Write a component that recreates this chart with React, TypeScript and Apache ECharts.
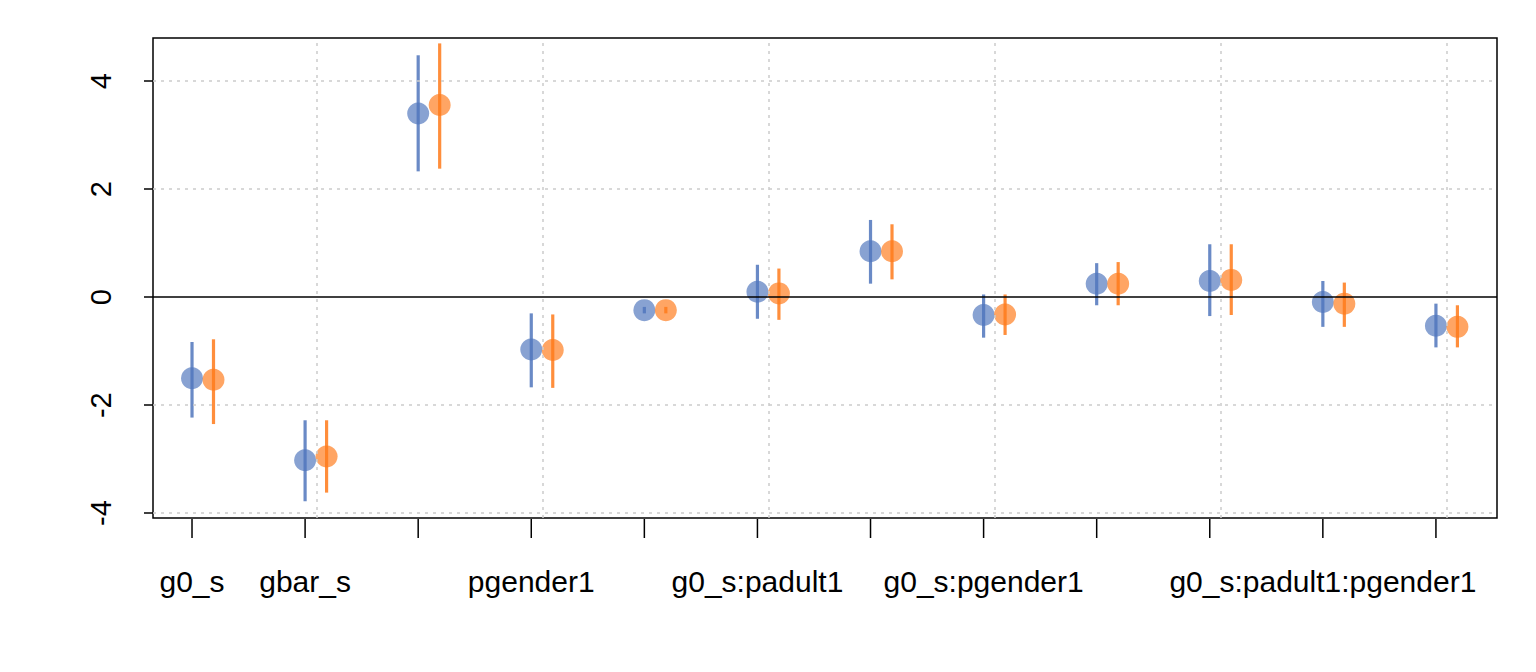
import React, { useEffect, useRef } from "react";
import * as echarts from "echarts";

const categories = ["g0_s", "gbar_s", "padult1", "pgender1", "g0_s:gbar_s", "g0_s:padult1", "gbar_s:padult1", "g0_s:pgender1", "gbar_s:pgender1", "padult1:pgender1", "g0_s:padult1:pgender1", "gbar_s:padult1:pgender1"];
const shownLabels = [true, true, false, true, false, true, false, true, false, false, true, false];
const blueEst = [-1.5, -3.02, 3.4, -0.97, -0.24, 0.1, 0.85, -0.33, 0.25, 0.3, -0.09, -0.53];
const blueLo = [-2.23, -3.78, 2.33, -1.67, -0.3, -0.4, 0.25, -0.75, -0.15, -0.35, -0.55, -0.93];
const blueHi = [-0.83, -2.28, 4.48, -0.3, -0.18, 0.6, 1.43, 0.05, 0.63, 0.98, 0.3, -0.12];
const orangeEst = [-1.53, -2.95, 3.56, -0.98, -0.24, 0.07, 0.85, -0.32, 0.25, 0.32, -0.12, -0.55];
const orangeLo = [-2.35, -3.62, 2.38, -1.68, -0.3, -0.42, 0.33, -0.7, -0.15, -0.33, -0.55, -0.93];
const orangeHi = [-0.78, -2.28, 4.7, -0.32, -0.18, 0.53, 1.35, 0.05, 0.65, 0.98, 0.27, -0.15];
const yTicks = [-4, -2, 0, 2, 4];
const yGrid = [-4, -2, 2, 4];
const xGrid = [2.1, 4.1, 6.1, 8.1, 10.1, 12.1];

const BLUE = "rgba(80,118,188,0.85)";
const ORANGE = "rgba(255,122,26,0.85)";
const FONT = "Arial";

export default function App() {
  const ref = useRef<HTMLDivElement>(null);
  useEffect(() => {
    const chart = echarts.init(ref.current!, null, { renderer: "svg" });
    const offset = 0.19;
    const errSeries = (est: number[], lo: number[], hi: number[], off: number, color: string) => [
      {
        type: "custom",
        data: est.map((_, i) => [i + 1 + off, lo[i], hi[i]]),
        renderItem: (params: any, api: any) => {
          const a = api.coord([api.value(0), api.value(1)]);
          const b = api.coord([api.value(0), api.value(2)]);
          return { type: "line", shape: { x1: a[0], y1: a[1], x2: b[0], y2: b[1] }, style: { stroke: color, lineWidth: 3.2 } };
        },
        z: 3,
      },
      {
        type: "scatter",
        data: est.map((v, i) => [i + 1 + off, v]),
        symbolSize: 22,
        itemStyle: { color },
        z: 4,
      },
    ];
    chart.setOption({
      animation: false,
      grid: { left: 153, right: 39, top: 38, bottom: 154, show: true, borderColor: "#000", borderWidth: 1.5, backgroundColor: "transparent" },
      xAxis: { type: "value", min: 0.655, max: 12.54, axisLabel: { show: false }, axisTick: { show: false }, axisLine: { show: false }, splitLine: { show: false } },
      yAxis: {
        type: "value", min: -4.09, max: 4.8,
        axisLine: { show: false },
        splitLine: { show: false },
        axisTick: { show: true, customValues: yTicks, length: 9, lineStyle: { color: "#000", width: 1.5 } },
        axisLabel: { customValues: yTicks, rotate: 90, margin: 38, fontSize: 29, color: "#000", fontFamily: FONT, formatter: (v: number) => String(v) },
      },
      series: [
        {
          type: "line", data: [], silent: true,
          markLine: {
            symbol: "none", silent: true, label: { show: false },
            lineStyle: { color: "#cccccc", type: [3, 5], width: 1.5 },
            data: [...yGrid.map((y) => ({ yAxis: y })), ...xGrid.map((x) => ({ xAxis: x }))],
          },
        },
        {
          type: "line", data: [], silent: true,
          markLine: { symbol: "none", silent: true, label: { show: false }, lineStyle: { color: "#000", type: "solid", width: 1.5 }, data: [{ yAxis: 0 }] },
        },
        {
          type: "custom",
          data: categories.map((c, i) => [i + 1, shownLabels[i] ? c : ""]),
          clip: false,
          renderItem: (params: any, api: any) => {
            const p = api.coord([api.value(0), -4.09]);
            const label = categories[params.dataIndex];
            const children: any[] = [
              { type: "line", shape: { x1: p[0], y1: p[1] + 1, x2: p[0], y2: p[1] + 20 }, style: { stroke: "#000", lineWidth: 1.5 } },
            ];
            if (shownLabels[params.dataIndex]) {
              children.push({ type: "text", x: p[0], y: p[1] + 63, style: { text: label, fontSize: 30, fontFamily: FONT, fill: "#000", align: "center", verticalAlign: "middle" } });
            }
            return { type: "group", children };
          },
        },
        ...errSeries(blueEst, blueLo, blueHi, 0, BLUE),
        ...errSeries(orangeEst, orangeLo, orangeHi, offset, ORANGE),
      ],
    });
    return () => chart.dispose();
  }, []);
  return <div ref={ref} style={{ position: "fixed", left: 0, top: 0, width: 1536, height: 672, background: "#fff" }} />;
}
